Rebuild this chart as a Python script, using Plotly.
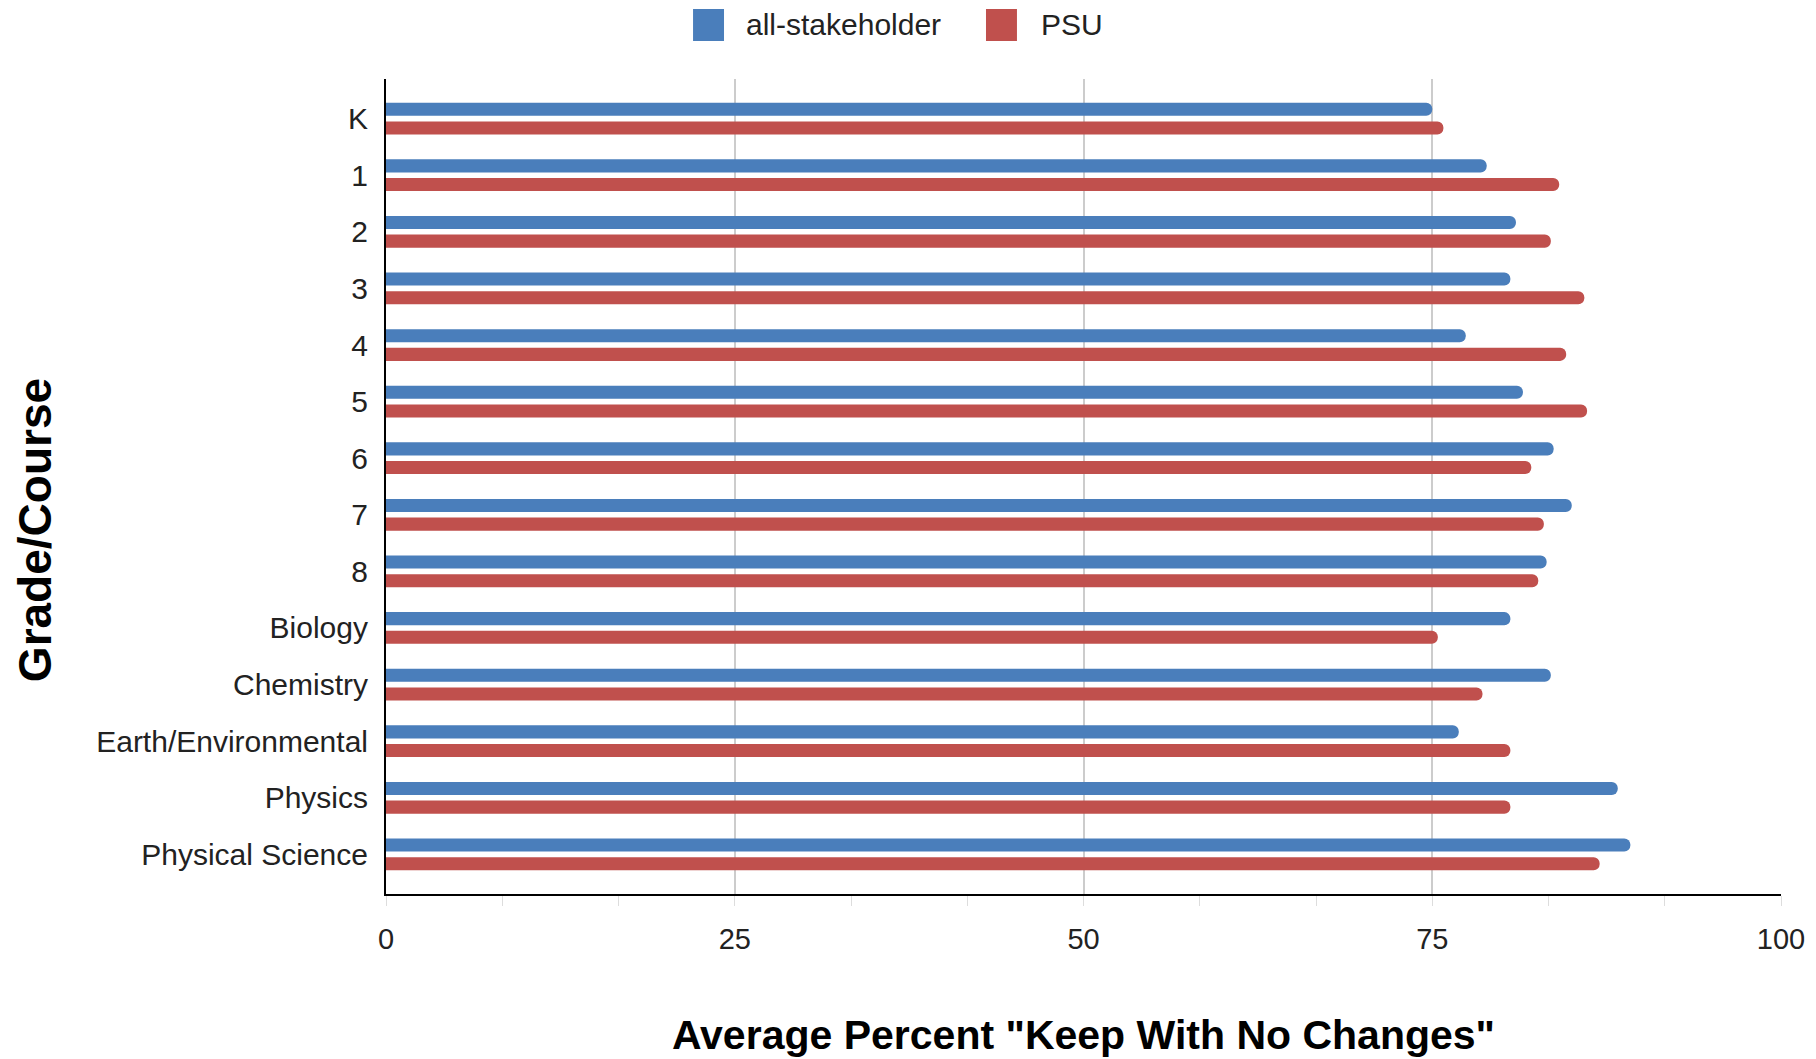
import plotly.graph_objects as go

categories = ["K", "1", "2", "3", "4", "5", "6", "7", "8", "Biology", "Chemistry",
              "Earth/Environmental", "Physics", "Physical Science"]
all_stakeholder = [75.0, 78.9, 81.0, 80.6, 77.4, 81.5, 83.7, 85.0, 83.2, 80.6, 83.5, 76.9, 88.3, 89.2]
psu = [75.8, 84.1, 83.5, 85.9, 84.6, 86.1, 82.1, 83.0, 82.6, 75.4, 78.6, 80.6, 80.6, 87.0]
series_names = ["all-stakeholder", "PSU"]
x_ticks = [0, 25, 50, 75, 100]

BLUE = "#4a7ebb"
RED = "#c0504d"
FONT = "Liberation Sans, Arial, sans-serif"

fig = go.Figure()
for name, vals, col in [(series_names[0], all_stakeholder, BLUE), (series_names[1], psu, RED)]:
    fig.add_trace(go.Bar(
        y=categories, x=vals, name=name, orientation="h",
        marker=dict(color=col, line=dict(width=0), cornerradius=6),
        showlegend=False,
    ))

fig.update_layout(
    width=1816, height=1059,
    paper_bgcolor="white", plot_bgcolor="white",
    margin=dict(l=378, r=43, t=71, b=173),
    barmode="group", bargap=0.34, bargroupgap=0.30,
    font=dict(family=FONT, size=30, color="#222"),
)

fig.update_xaxes(
    range=[0, 100], tickvals=x_ticks, ticktext=[str(v) for v in x_ticks],
    showgrid=True, gridcolor="#cccccc", gridwidth=2,
    showline=True, linecolor="black", linewidth=2,
    ticks="outside", ticklen=10, tickcolor="#dddddd", tickwidth=1,
    minor=dict(dtick=100 / 12, tick0=0, ticks="outside", ticklen=10,
               tickcolor="#dddddd", showgrid=False),
    ticklabelstandoff=8,
    tickfont=dict(size=29, color="#222"),
    zeroline=False,
    title=dict(text='Average Percent "Keep With No Changes"',
               font=dict(size=41, family=FONT, color="black", weight="bold"),
               standoff=67),
)
fig.update_yaxes(
    type="category", categoryorder="array", categoryarray=categories,
    range=[13.7, -0.7],
    showline=True, linecolor="black", linewidth=2,
    showgrid=False, ticks="", ticklabelstandoff=10,
    tickfont=dict(size=30, color="#222"),
)

# y-axis title
fig.add_annotation(
    text="Grade/Course", textangle=-90, xref="paper", yref="paper",
    x=-0.252, y=0.447, xanchor="center", yanchor="middle", showarrow=False,
    font=dict(size=46, family=FONT, color="black", weight="bold"),
)

# legend (custom)
legend_items = [(series_names[0], BLUE, 0.2201, 0.2423, 0.2566),
                (series_names[1], RED, 0.4301, 0.4523, 0.4681)]
for name, col, x0, x1, tx in legend_items:
    fig.add_shape(type="rect", xref="paper", yref="paper", x0=x0, x1=x1,
                  y0=1.0466, y1=1.0859, fillcolor=col, line=dict(width=0))
    fig.add_annotation(text=name, xref="paper", yref="paper", x=tx, y=1.0663,
                       xanchor="left", yanchor="middle", showarrow=False,
                       font=dict(size=30, family=FONT, color="#222"))

fig.write_html("out.html")
